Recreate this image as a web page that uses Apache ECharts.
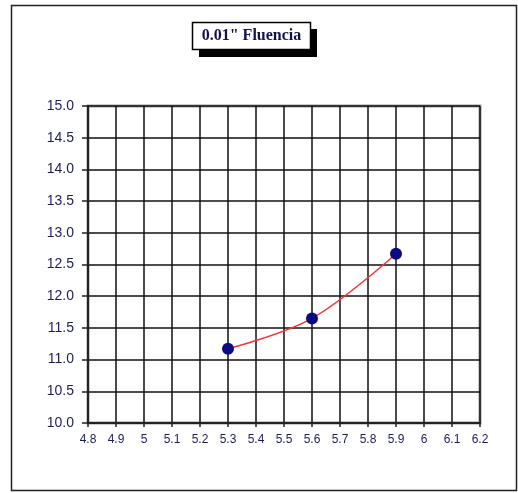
<!DOCTYPE html>
<html>
<head>
<meta charset="utf-8">
<script src="https://cdn.jsdelivr.net/npm/echarts@6/dist/echarts.min.js"></script>
<style>
  html, body { margin: 0; padding: 0; background: #fff; }
  #chart { width: 518px; height: 493px; }
</style>
</head>
<body>
<div id="chart"></div>
<script>
// Penetration readings: displacement (x) vs. load (y)
const chartTitle = '0.01" Fluencia';
const xValues = [5.3, 5.6, 5.9];
const yValues = [11.17, 11.65, 12.67];

const xMin = 4.8, xMax = 6.2, xStep = 0.1;
const yMin = 10.0, yMax = 15.0, yStep = 0.5;

const points = xValues.map((x, i) => [x, yValues[i]]);

const chart = echarts.init(document.getElementById('chart'), null, { renderer: 'canvas' });

chart.setOption({
  animation: false,
  backgroundColor: '#ffffff',
  grid: {
    left: 88, right: 38, top: 106, bottom: 70,
    show: true,
    borderColor: '#9a9a9a',
    borderWidth: 3,
    backgroundColor: 'transparent'
  },
  xAxis: {
    type: 'value',
    min: xMin, max: xMax, interval: xStep,
    axisLine: { show: true, onZero: false, lineStyle: { color: '#222', width: 2 } },
    axisTick: { show: true, length: 4, lineStyle: { color: '#222', width: 1.5 } },
    splitLine: { show: true, lineStyle: { color: '#111', width: 1.5 } },
    axisLabel: {
      margin: 11,
      fontFamily: 'Liberation Sans, Arial, sans-serif',
      fontSize: 12,
      color: '#1c1c5a',
      showMinLabel: true, showMaxLabel: true,
      formatter: v => String(Math.round(v * 10) / 10)
    }
  },
  yAxis: {
    type: 'value',
    min: yMin, max: yMax, interval: yStep,
    axisLine: { show: true, onZero: false, lineStyle: { color: '#222', width: 2 } },
    axisTick: { show: true, length: 6, lineStyle: { color: '#222', width: 1.5 } },
    splitLine: { show: true, lineStyle: { color: '#111', width: 1.5 } },
    axisLabel: {
      margin: 14,
      fontFamily: 'Liberation Sans, Arial, sans-serif',
      fontSize: 14,
      color: '#1c1c5a',
      showMinLabel: true, showMaxLabel: true,
      formatter: v => v.toFixed(1)
    }
  },
  series: [{
    type: 'line',
    data: points,
    smooth: 0.35,
    symbol: 'circle',
    symbolSize: 12,
    itemStyle: { color: '#0a0a82' },
    lineStyle: { color: '#ff3030', width: 1.5 },
    z: 5
  }],
  graphic: [
    {
      type: 'rect',
      shape: { x: 11.5, y: 5.5, width: 505, height: 485 },
      style: { fill: 'none', stroke: '#222', lineWidth: 1.5 },
      silent: true, z: -1
    },
    {
      type: 'rect',
      shape: { x: 199, y: 29, width: 118, height: 28 },
      style: { fill: '#000' },
      silent: true, z: 10
    },
    {
      type: 'rect',
      shape: { x: 192.5, y: 22.5, width: 118, height: 27 },
      style: { fill: '#fff', stroke: '#000', lineWidth: 1.5 },
      silent: true, z: 11
    },
    {
      type: 'text',
      x: 251.5, y: 36,
      style: {
        text: chartTitle,
        fill: '#12124a',
        font: 'bold 16px "Liberation Serif", "Times New Roman", serif',
        textAlign: 'center',
        textVerticalAlign: 'middle'
      },
      silent: true, z: 12
    }
  ]
});
</script>
</body>
</html>
